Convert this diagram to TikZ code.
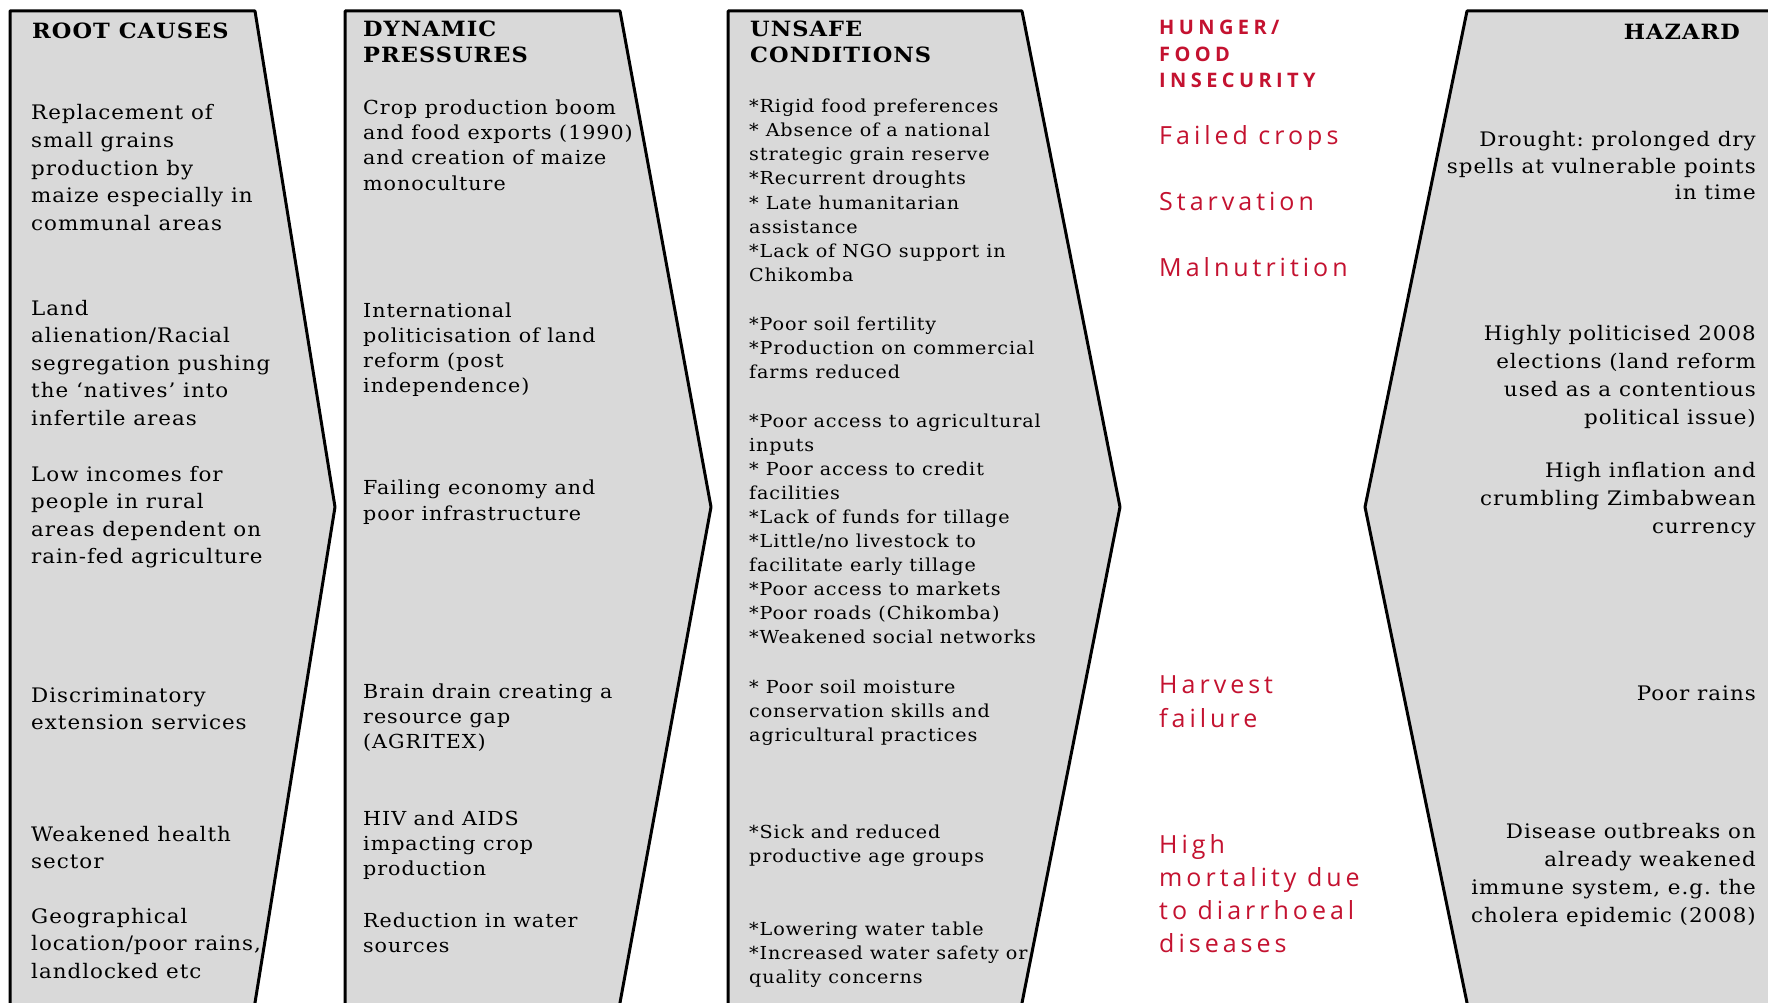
\documentclass[tikz,border=0pt]{standalone}
\usepackage{fontspec}
\setmainfont{DejaVu Serif}[LetterSpace=5, FakeStretch=1.07]
\newfontfamily\redfont{Open Sans}[LetterSpace=16]
\newfontfamily\redheadfont{Open Sans}[LetterSpace=22]
\definecolor{boxgray}{RGB}{217,217,217}
\definecolor{redink}{RGB}{196,18,48}
\frenchspacing
\newcommand\Lines[6]{\foreach \L [count=\i] in {#6} {\node[#5] (#1-\i) at (#2,{#3+(\i-1)*#4}) {\L};}}
\tikzset{
  chevron/.style={draw=black, line width=3pt, fill=boxgray, line join=round},
  lefttxt/.style={anchor=base west, inner sep=0pt},
  righttxt/.style={anchor=base east, inner sep=0pt},
  txtA/.style={lefttxt, font=\fontsize{20}{24}\selectfont},
  txtB/.style={lefttxt, font=\fontsize{19.3}{23}\selectfont},
  txtC/.style={lefttxt, font=\fontsize{17.9}{22}\selectfont},
  txtD/.style={righttxt, font=\fontsize{20}{24}\selectfont},
  headL/.style={lefttxt, font=\fontsize{21}{25}\selectfont\bfseries},
  headR/.style={righttxt, font=\fontsize{21}{25}\selectfont\bfseries},
  redhead/.style={lefttxt, text=redink, font=\fontsize{20}{24}\selectfont\redheadfont\bfseries},
  redlbl/.style={lefttxt, text=redink, font=\fontsize{25}{29}\selectfont\redfont},
}
\begin{document}
\begin{tikzpicture}[x=1pt,y=-1pt]
\useasboundingbox (0,0) rectangle (1768,1003);
\fill[white] (0,0) rectangle (1768,1003);
% chevrons
\draw[chevron] (10,11) -- (255,11) -- (335,507) -- (253.5,1012) -- (10,1012) -- cycle;
\draw[chevron] (345,11) -- (620,11) -- (711,507) -- (618.3,1012) -- (345,1012) -- cycle;
\draw[chevron] (728,11) -- (1022,11) -- (1120,507) -- (1020.2,1012) -- (728,1012) -- cycle;
\draw[chevron] (1785,11) -- (1467,11) -- (1365,507) -- (1468.9,1012) -- (1785,1012) -- cycle;
% root causes
\node[headL] (rc-h) at (32,39) {ROOT CAUSES};
\Lines{rc-a}{31}{119.5}{27.8}{txtA}{Replacement of, small grains, production by, maize especially  in, communal  areas}
\Lines{rc-b}{31}{315}{27.5}{txtA}{Land, alienation/Racial, segregation pushing, the ‘natives’ into, infertile areas}
\Lines{rc-c}{31}{481}{27.5}{txtA}{Low incomes for, people in rural, areas dependent on, rain-fed agriculture}
\Lines{rc-d}{31}{702}{27.8}{txtA}{Discriminatory, extension services}
\Lines{rc-e}{31}{841}{27.5}{txtA}{Weakened health, sector}
\Lines{rc-f}{31}{923}{27.5}{txtA}{Geographical, {location/poor rains,}, landlocked etc}
% dynamic pressures
\Lines{dp-h}{363}{37}{26}{headL}{DYNAMIC, PRESSURES}
\Lines{dp-a}{363}{115}{25}{txtB}{Crop production  boom, and food exports (1990), and creation of maize, monoculture}
\Lines{dp-b}{363}{317}{25.3}{txtB}{International, politicisation of land, reform (post, independence)}
\Lines{dp-c}{363}{494}{26}{txtB}{Failing economy and, poor infrastructure}
\Lines{dp-d}{363}{698}{25}{txtB}{Brain drain creating a, resource gap, (AGRITEX)}
\Lines{dp-e}{363}{825}{25}{txtB}{HIV and AIDS, impacting crop, production}
\Lines{dp-f}{363}{927}{25}{txtB}{Reduction in water, sources}
% unsafe conditions
\Lines{uc-h}{750}{37}{26}{headL}{UNSAFE, CONDITIONS}
\Lines{uc-a}{749}{113}{24}{txtC}{*Rigid food preferences, * Absence of a national, strategic grain reserve, *Recurrent droughts, * Late humanitarian, assistance, *Lack of NGO support in, Chikomba}
\Lines{uc-b}{749}{330}{24}{txtC}{*Poor soil fertility, *Production on commercial, farms reduced}
\Lines{uc-c}{749}{427}{24}{txtC}{*Poor access to agricultural, inputs, * Poor access to credit, facilities, *Lack of funds for tillage, *Little/no livestock to, facilitate early tillage, *Poor access to markets, *Poor roads (Chikomba), *Weakened social networks}
\Lines{uc-d}{749}{693}{24}{txtC}{* Poor soil moisture, conservation skills and, agricultural practices}
\Lines{uc-e}{749}{838}{24}{txtC}{*Sick and reduced, productive age groups}
\Lines{uc-f}{749}{935}{24}{txtC}{*Lowering water table, *Increased water safety or, quality concerns}
% red outcomes
\Lines{red-h}{1159}{35}{26.5}{redhead}{HUNGER/, FOOD, INSECURITY}
\node[redlbl] (red-a) at (1159,145) {Failed crops};
\node[redlbl] (red-b) at (1159,211) {Starvation};
\node[redlbl] (red-c) at (1159,276) {Malnutrition};
\Lines{red-d}{1159}{693}{34}{redlbl}{Harvest, failure}
\Lines{red-e}{1159}{853}{33.3}{redlbl}{High, mortality due, to diarrhoeal, diseases}
% hazard
\node[headR] (hz-h) at (1740,40) {HAZARD};
\Lines{hz-a}{1756}{147}{26.5}{txtD}{Drought: prolonged dry, spells at vulnerable points, in time}
\Lines{hz-b}{1756}{340}{28.3}{txtD}{Highly politicised 2008, elections (land reform, used as a contentious, political issue)}
\Lines{hz-c}{1756}{477}{28}{txtD}{High inflation and, crumbling Zimbabwean, currency}
\node[txtD] (hz-d) at (1756,700) {Poor rains};
\Lines{hz-e}{1756}{838}{28}{txtD}{Disease outbreaks on, already weakened, {immune system, e.g. the}, cholera epidemic (2008)}
\end{tikzpicture}
\end{document}
